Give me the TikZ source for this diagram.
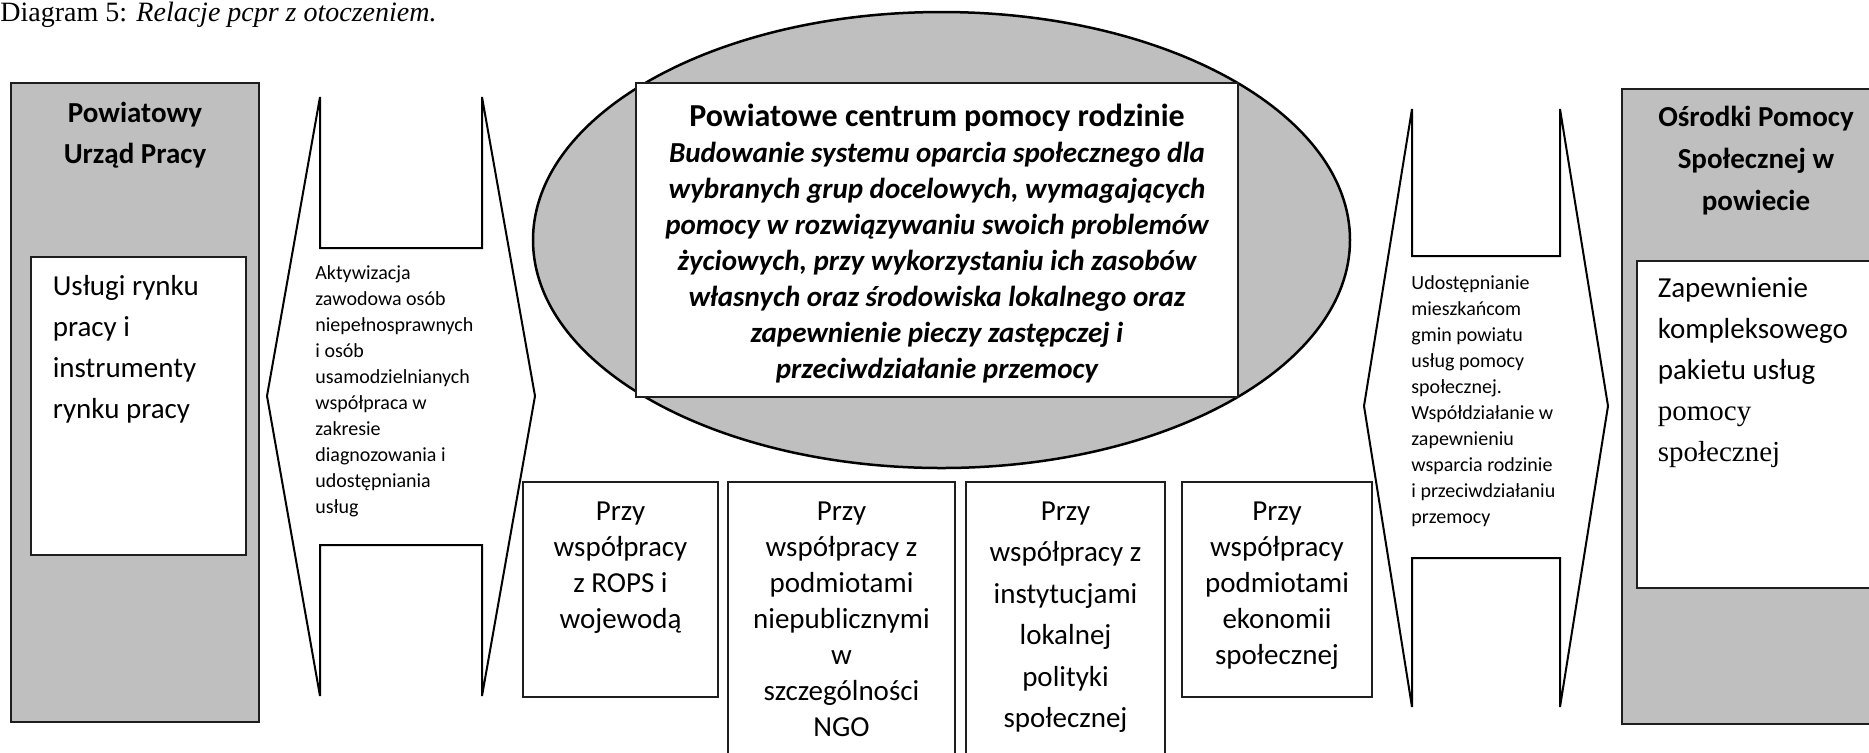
\documentclass[tikz,border=0pt]{standalone}
\usepackage{fontspec}
\setmainfont{Carlito}
\newfontfamily\serifpl{Liberation Serif}
\usetikzlibrary{positioning,shapes.geometric}
\definecolor{dgedge}{RGB}{30,30,30}
\definecolor{dgfill}{RGB}{191,191,191}
\tikzset{
  panel/.style={draw=dgedge, line width=0.6pt, fill=dgfill, inner sep=0pt},
  card/.style={draw=dgedge, line width=0.6pt, fill=white, inner sep=0pt},
  hub/.style={ellipse, draw=black, line width=1.25pt, fill=dgfill, inner sep=0pt},
  flow/.style={draw=black, line width=1pt, fill=white, line join=miter},
  head/.style={inner sep=0pt, align=center, font=\fontsize{14.5}{20.5}\selectfont\bfseries},
  body/.style={inner sep=0pt, align=left, font=\fontsize{14.5}{20.5}\selectfont},
  note/.style={inner sep=0pt, align=left, font=\fontsize{10}{13}\selectfont},
  coop/.style={inner sep=0pt, align=center, font=\fontsize{14.5}{18}\selectfont}
}
\begin{document}
\begin{tikzpicture}[x=0.5pt, y=-0.5pt]
  \useasboundingbox (0,0) rectangle (1869,752);
  \clip (0,0) rectangle (1869,752);

  \node[anchor=base west, inner sep=0pt, font=\serifpl\fontsize{14}{17}\selectfont] (caption) at (0,21)
    {Diagram 5: \textit{Relacje pcpr z otoczeniem.}};

  % powiatowy urzad pracy
  \node[panel, minimum width=124pt, minimum height=319.5pt] (pup) at (135,402.5) {};
  \node[card, minimum width=107.5pt, minimum height=149pt] (pupbody) at (138.5,406) {};
  \node[head, below=9.5pt of pup.north] (puptitle) {Powiatowy\\Urząd Pracy};
  \node[body, below right=9.5pt and 11pt of pupbody.north west] (puptext)
    {Usługi rynku\\pracy i\\instrumenty\\rynku pracy};

  \draw[flow] (320,97) -- (320,248) -- (482,248) -- (482,97) -- (535,396) -- (482,696)
    -- (482,545) -- (320,545) -- (320,696) -- (267,396) -- cycle;
  \node[note, anchor=north west] (pupnote) at (315,265)
    {Aktywizacja\\zawodowa osób\\niepełnosprawnych\\i osób\\usamodzielnianych\\współpraca w\\zakresie\\diagnozowania i\\udostępniania\\usług};

  % pcpr
  \node[hub, minimum width=408.5pt, minimum height=228pt] (hub) at (941.5,240) {};
  \node[card, minimum width=301pt, minimum height=157pt] (goal) at (937,240) {};
  \node[coop, below=10.5pt of goal.north, font=\fontsize{14.5}{18}\selectfont\bfseries\itshape] (goaltext)
    {{\fontsize{16}{18}\selectfont\upshape Powiatowe centrum pomocy rodzinie}\\
     Budowanie systemu oparcia społecznego dla\\
     wybranych grup docelowych, wymagających\\
     pomocy w rozwiązywaniu swoich problemów\\
     życiowych, przy wykorzystaniu ich zasobów\\
     własnych oraz środowiska lokalnego oraz\\
     zapewnienie pieczy zastępczej i\\
     przeciwdziałanie przemocy};

  % wspolpraca
  \node[card, minimum width=97.5pt, minimum height=107.5pt] (rops) at (620.5,589.5) {};
  \node[card, minimum width=113.5pt, minimum height=154pt] (ngo) at (841.5,636) {};
  \node[card, minimum width=99.5pt, minimum height=154pt] (local) at (1065.5,636) {};
  \node[card, minimum width=95pt, minimum height=107.5pt] (econ) at (1277,589.5) {};
  \node[coop, below=10pt of rops.north] (ropstext) {Przy\\współpracy\\z ROPS i\\wojewodą};
  \node[coop, below=10pt of ngo.north] (ngotext)
    {Przy\\współpracy z\\podmiotami\\niepublicznymi\\w\\szczególności\\NGO};
  \node[coop, below=10pt of local.north, font=\fontsize{14.5}{20.75}\selectfont] (localtext)
    {Przy\\współpracy z\\instytucjami\\lokalnej\\polityki\\społecznej};
  \node[coop, below=10pt of econ.north] (econtext)
    {Przy\\współpracy\\podmiotami\\ekonomii\\społecznej};

  % osrodki pomocy spolecznej
  \draw[flow] (1412,109) -- (1412,256) -- (1560,256) -- (1560,109) -- (1608,406) -- (1560,707)
    -- (1560,558) -- (1412,558) -- (1412,707) -- (1364,406) -- cycle;
  \node[note, anchor=north west] (opsnote) at (1411,275)
    {Udostępnianie\\mieszkańcom\\gmin powiatu\\usług pomocy\\społecznej.\\Współdziałanie w\\zapewnieniu\\wsparcia rodzinie\\i przeciwdziałaniu\\przemocy};

  \node[panel, minimum width=134pt, minimum height=317.5pt] (ops) at (1756,406.5) {};
  \node[card, minimum width=126.5pt, minimum height=163.5pt] (opsbody) at (1763.5,424.5) {};
  \node[head, below=8.5pt of ops.north, font=\fontsize{14.5}{21}\selectfont\bfseries] (opstitle)
    {Ośrodki Pomocy\\Społecznej w\\powiecie};
  \node[body, below right=8.5pt and 10.5pt of opsbody.north west] (opstext)
    {Zapewnienie\\kompleksowego\\pakietu usług\\{\serifpl pomocy}\\{\serifpl społecznej}};
\end{tikzpicture}
\end{document}
